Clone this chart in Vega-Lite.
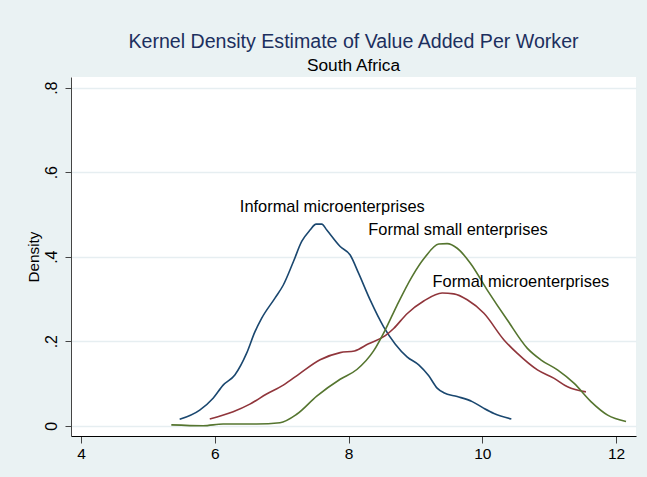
{
  "$schema": "https://vega.github.io/schema/vega-lite/v6.json",
  "width": 565,
  "height": 359,
  "autosize": {"type": "none"},
  "padding": {"left": 71, "top": 77, "right": 11, "bottom": 41},
  "background": "#eaf2f3",
  "config": {
    "view": {"fill": "white", "stroke": null},
    "font": "Liberation Sans"
  },
  "title": {
    "text": "Kernel Density Estimate of Value Added Per Worker",
    "subtitle": "South Africa",
    "font": "Liberation Sans",
    "subtitleFont": "Liberation Sans",
    "fontSize": 19.6,
    "fontWeight": "normal",
    "color": "#1c2f5e",
    "subtitleFontSize": 17.3,
    "subtitleColor": "#000000",
    "anchor": "middle",
    "offset": 2,
    "subtitlePadding": 4
  },
  "datasets": {
    "curves": [
      {"series": "Informal microenterprises", "x": 5.475, "y": 0.015},
      {"series": "Informal microenterprises", "x": 5.775, "y": 0.037},
      {"series": "Informal microenterprises", "x": 5.975, "y": 0.065},
      {"series": "Informal microenterprises", "x": 6.125, "y": 0.096},
      {"series": "Informal microenterprises", "x": 6.3, "y": 0.12},
      {"series": "Informal microenterprises", "x": 6.475, "y": 0.171},
      {"series": "Informal microenterprises", "x": 6.6, "y": 0.222},
      {"series": "Informal microenterprises", "x": 6.7, "y": 0.254},
      {"series": "Informal microenterprises", "x": 6.9, "y": 0.302},
      {"series": "Informal microenterprises", "x": 7.025, "y": 0.333},
      {"series": "Informal microenterprises", "x": 7.175, "y": 0.388},
      {"series": "Informal microenterprises", "x": 7.3, "y": 0.436},
      {"series": "Informal microenterprises", "x": 7.425, "y": 0.463},
      {"series": "Informal microenterprises", "x": 7.515, "y": 0.477},
      {"series": "Informal microenterprises", "x": 7.6, "y": 0.477},
      {"series": "Informal microenterprises", "x": 7.675, "y": 0.463},
      {"series": "Informal microenterprises", "x": 7.875, "y": 0.424},
      {"series": "Informal microenterprises", "x": 8.025, "y": 0.404},
      {"series": "Informal microenterprises", "x": 8.15, "y": 0.361},
      {"series": "Informal microenterprises", "x": 8.325, "y": 0.297},
      {"series": "Informal microenterprises", "x": 8.525, "y": 0.234},
      {"series": "Informal microenterprises", "x": 8.7, "y": 0.193},
      {"series": "Informal microenterprises", "x": 8.875, "y": 0.163},
      {"series": "Informal microenterprises", "x": 9.05, "y": 0.144},
      {"series": "Informal microenterprises", "x": 9.2, "y": 0.118},
      {"series": "Informal microenterprises", "x": 9.325, "y": 0.089},
      {"series": "Informal microenterprises", "x": 9.425, "y": 0.078},
      {"series": "Informal microenterprises", "x": 9.625, "y": 0.069},
      {"series": "Informal microenterprises", "x": 9.85, "y": 0.057},
      {"series": "Informal microenterprises", "x": 10.025, "y": 0.041},
      {"series": "Informal microenterprises", "x": 10.175, "y": 0.029},
      {"series": "Informal microenterprises", "x": 10.435, "y": 0.016},
      {"series": "Formal microenterprises", "x": 5.925, "y": 0.016},
      {"series": "Formal microenterprises", "x": 6.275, "y": 0.033},
      {"series": "Formal microenterprises", "x": 6.525, "y": 0.051},
      {"series": "Formal microenterprises", "x": 6.775, "y": 0.075},
      {"series": "Formal microenterprises", "x": 7.025, "y": 0.096},
      {"series": "Formal microenterprises", "x": 7.275, "y": 0.124},
      {"series": "Formal microenterprises", "x": 7.575, "y": 0.156},
      {"series": "Formal microenterprises", "x": 7.875, "y": 0.173},
      {"series": "Formal microenterprises", "x": 8.09, "y": 0.177},
      {"series": "Formal microenterprises", "x": 8.3, "y": 0.194},
      {"series": "Formal microenterprises", "x": 8.55, "y": 0.213},
      {"series": "Formal microenterprises", "x": 8.675, "y": 0.23},
      {"series": "Formal microenterprises", "x": 8.875, "y": 0.265},
      {"series": "Formal microenterprises", "x": 9.125, "y": 0.295},
      {"series": "Formal microenterprises", "x": 9.4, "y": 0.314},
      {"series": "Formal microenterprises", "x": 9.575, "y": 0.312},
      {"series": "Formal microenterprises", "x": 9.775, "y": 0.298},
      {"series": "Formal microenterprises", "x": 10.025, "y": 0.266},
      {"series": "Formal microenterprises", "x": 10.325, "y": 0.203},
      {"series": "Formal microenterprises", "x": 10.525, "y": 0.171},
      {"series": "Formal microenterprises", "x": 10.825, "y": 0.132},
      {"series": "Formal microenterprises", "x": 11.075, "y": 0.112},
      {"series": "Formal microenterprises", "x": 11.275, "y": 0.092},
      {"series": "Formal microenterprises", "x": 11.55, "y": 0.08},
      {"series": "Formal small enterprises", "x": 5.35, "y": 0.002},
      {"series": "Formal small enterprises", "x": 5.825, "y": 0.0},
      {"series": "Formal small enterprises", "x": 6.125, "y": 0.004},
      {"series": "Formal small enterprises", "x": 6.625, "y": 0.004},
      {"series": "Formal small enterprises", "x": 6.975, "y": 0.007},
      {"series": "Formal small enterprises", "x": 7.225, "y": 0.027},
      {"series": "Formal small enterprises", "x": 7.525, "y": 0.07},
      {"series": "Formal small enterprises", "x": 7.875, "y": 0.11},
      {"series": "Formal small enterprises", "x": 8.125, "y": 0.133},
      {"series": "Formal small enterprises", "x": 8.375, "y": 0.177},
      {"series": "Formal small enterprises", "x": 8.55, "y": 0.227},
      {"series": "Formal small enterprises", "x": 8.725, "y": 0.285},
      {"series": "Formal small enterprises", "x": 8.95, "y": 0.353},
      {"series": "Formal small enterprises", "x": 9.14, "y": 0.398},
      {"series": "Formal small enterprises", "x": 9.35, "y": 0.43},
      {"series": "Formal small enterprises", "x": 9.475, "y": 0.431},
      {"series": "Formal small enterprises", "x": 9.625, "y": 0.42},
      {"series": "Formal small enterprises", "x": 9.825, "y": 0.384},
      {"series": "Formal small enterprises", "x": 10.075, "y": 0.321},
      {"series": "Formal small enterprises", "x": 10.375, "y": 0.25},
      {"series": "Formal small enterprises", "x": 10.675, "y": 0.183},
      {"series": "Formal small enterprises", "x": 10.875, "y": 0.156},
      {"series": "Formal small enterprises", "x": 11.125, "y": 0.132},
      {"series": "Formal small enterprises", "x": 11.375, "y": 0.1},
      {"series": "Formal small enterprises", "x": 11.625, "y": 0.057},
      {"series": "Formal small enterprises", "x": 11.875, "y": 0.025},
      {"series": "Formal small enterprises", "x": 12.15, "y": 0.01}
    ],
    "labels": [
      {"label": "Informal microenterprises", "x": 6.375, "y": 0.517},
      {"label": "Formal small enterprises", "x": 8.296, "y": 0.462},
      {"label": "Formal microenterprises", "x": 9.256, "y": 0.34}
    ]
  },
  "layer": [
    {
      "data": {"name": "curves"},
      "mark": {"type": "line", "strokeWidth": 1.6, "clip": true, "interpolate": "monotone"},
      "encoding": {
        "x": {
          "field": "x",
          "type": "quantitative",
          "scale": {"domain": [3.85, 12.299], "nice": false, "zero": false},
          "axis": {
            "values": [4, 6, 8, 10, 12],
            "format": "d",
            "title": null,
            "grid": false,
            "domainColor": "#000000",
            "domainWidth": 1,
            "tickColor": "#444444",
            "tickSize": 7,
            "tickWidth": 1,
            "labelFont": "Liberation Sans",
            "labelFontSize": 15.5,
            "labelColor": "#000000",
            "labelPadding": 3
          }
        },
        "y": {
          "field": "y",
          "type": "quantitative",
          "scale": {"domain": [-0.0244, 0.8253], "nice": false, "zero": false},
          "axis": {
            "values": [0, 0.2, 0.4, 0.6, 0.8],
            "labelExpr": "datum.value == 0 ? '0' : replace(format(datum.value, '.1f'), '0.', '.')",
            "title": "Density",
            "titleFont": "Liberation Sans",
            "titleFontSize": 15.3,
            "titleFontWeight": "normal",
            "titleColor": "#000000",
            "titlePadding": 2,
            "grid": true,
            "gridColor": "#e6eef1",
            "gridWidth": 1.5,
            "domainColor": "#444444",
            "domainWidth": 1,
            "tickColor": "#444444",
            "tickSize": 6,
            "tickWidth": 1,
            "labelAngle": -90,
            "labelAlign": "center",
            "labelBaseline": "bottom",
            "labelFont": "Liberation Sans",
            "labelFontSize": 16,
            "labelColor": "#000000",
            "labelPadding": 6
          }
        },
        "color": {
          "field": "series",
          "type": "nominal",
          "scale": {
            "domain": ["Informal microenterprises", "Formal microenterprises", "Formal small enterprises"],
            "range": ["#1a476f", "#90353b", "#55752f"]
          },
          "legend": null
        },
        "order": {"field": "x", "type": "quantitative"}
      }
    },
    {
      "data": {"name": "labels"},
      "mark": {"type": "text", "align": "left", "baseline": "middle", "fontSize": 16.4, "font": "Liberation Sans", "color": "#000000"},
      "encoding": {
        "x": {"field": "x", "type": "quantitative"},
        "y": {"field": "y", "type": "quantitative"},
        "text": {"field": "label", "type": "nominal"}
      }
    }
  ]
}
